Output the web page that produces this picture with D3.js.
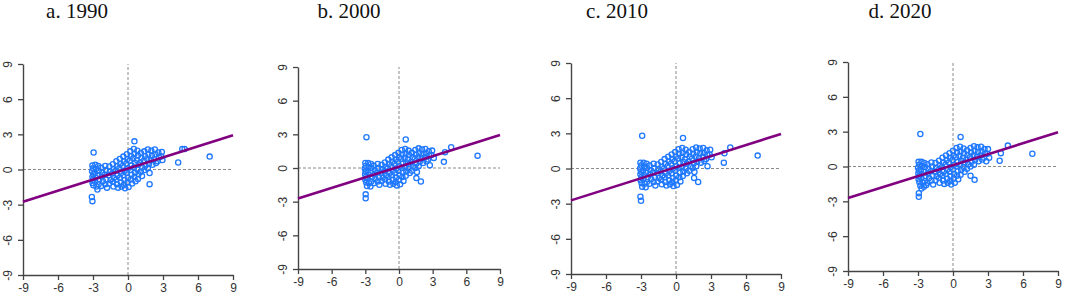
<!DOCTYPE html>
<html>
<head>
<meta charset="utf-8">
<style>
  body { margin: 0; background: #fff; }
  .tick text { font-family: "Liberation Sans", Arial, sans-serif; font-size: 12px; fill: #333; }
</style>
</head>
<body>
<script src="https://cdn.jsdelivr.net/npm/d3@7"></script>
<script>
var width = 1065, height = 296;

// panel titles and axis ticks
var titles = ["a. 1990", "b. 2000", "c. 2010", "d. 2020"];
var ticks = [-9, -6, -3, 0, 3, 6, 9];

// fitted line: value at x = -9 and at x = 9
var fitLines = [[-2.75, 2.92], [-2.72, 2.95], [-2.72, 2.95], [-2.72, 2.95]];

// standardized value (x) vs spatial lag (y)
var points1990 = [
  [-2.95,1.45],[0.55,2.4],[-3.1,-2.35],[-3.05,-2.7],[4.3,0.6],[7.0,1.1],[1.85,-1.25],[4.65,1.75],[4.85,1.75],
  [-3.05,0.35],[-3.0,0.1],[-3.08,-0.15],[-2.98,-0.4],[-3.05,-0.65],[-3.0,-0.9],[-3.04,-1.15],[-2.97,-1.35],
  [-2.8,0.4],[-2.75,0.05],[-2.85,-0.3],[-2.78,-0.7],[-2.82,-1.05],[-2.7,-1.45],[-2.62,-1.7],
  [-2.55,0.3],[-2.5,-0.1],[-2.6,-0.5],[-2.45,-0.85],[-2.52,-1.25],
  [-2.3,0.15],[-2.2,-0.25],[-2.25,-0.6],[-2.15,-1.0],[-2.3,-1.4],
  [-1.95,0.3],[-1.9,-0.05],[-2.0,-0.45],[-1.85,-0.85],[-1.95,-1.25],[-1.8,-1.55],
  [-1.6,0.25],[-1.55,-0.15],[-1.65,-0.5],[-1.5,-0.9],[-1.6,-1.2],
  [-1.3,0.45],[-1.25,0.05],[-1.35,-0.35],[-1.2,-0.7],[-1.3,-1.05],[-1.25,-1.45],
  [-1.0,0.7],[-0.95,0.3],[-1.05,-0.1],[-0.9,-0.5],[-1.0,-0.85],[-0.95,-1.25],[-0.85,-1.55],
  [-0.7,0.9],[-0.65,0.5],[-0.75,0.1],[-0.6,-0.3],[-0.7,-0.7],[-0.6,-1.1],[-0.55,-1.45],
  [-0.4,1.1],[-0.35,0.7],[-0.45,0.3],[-0.3,-0.1],[-0.4,-0.5],[-0.3,-0.9],[-0.35,-1.3],[-0.25,-1.6],
  [-0.1,1.3],[-0.05,0.9],[-0.15,0.5],[0.0,0.1],[-0.1,-0.3],[0.0,-0.7],[-0.05,-1.1],[0.05,-1.5],
  [0.2,1.55],[0.25,1.15],[0.15,0.75],[0.3,0.35],[0.2,-0.05],[0.3,-0.45],[0.25,-0.85],[0.35,-1.2],
  [0.5,1.75],[0.55,1.35],[0.45,0.95],[0.6,0.55],[0.5,0.15],[0.6,-0.25],[0.55,-0.65],[0.65,-1.0],
  [0.8,1.6],[0.85,1.2],[0.75,0.8],[0.9,0.4],[0.8,0.0],[0.9,-0.4],[0.85,-0.8],
  [1.1,1.4],[1.15,1.0],[1.05,0.6],[1.2,0.2],[1.1,-0.2],[1.2,-0.55],
  [1.4,1.55],[1.45,1.15],[1.35,0.75],[1.5,0.35],[1.4,-0.05],
  [1.7,1.7],[1.75,1.3],[1.65,0.9],[1.8,0.5],[1.7,0.1],[1.85,-0.3],
  [2.0,1.6],[2.05,1.2],[1.95,0.8],[2.1,0.4],
  [2.3,1.7],[2.35,1.3],[2.25,0.9],[2.4,0.55],
  [2.6,1.45],[2.65,1.05],[2.55,0.7],
  [2.9,1.5],[2.85,1.1],[2.95,0.8]
];

var points2000 = [
  [-2.9,2.75],[0.6,2.55],[-2.97,-2.35],[-2.97,-2.7],[7.0,1.1],[4.0,0.55],[4.1,1.4],[4.65,1.85],[2.75,0.25],[1.55,-0.9],[1.95,-1.2],
  [-3.0,0.45],[-2.95,0.2],[-3.05,-0.05],[-2.98,-0.3],[-3.02,-0.55],[-2.95,-0.8],[-3.0,-1.05],[-2.92,-1.3],[-2.85,-1.6],
  [-2.75,0.45],[-2.7,0.1],[-2.8,-0.25],[-2.72,-0.6],[-2.78,-0.95],[-2.65,-1.35],[-2.55,-1.65],
  [-2.5,0.35],[-2.45,0.0],[-2.55,-0.4],[-2.4,-0.8],[-2.48,-1.2],
  [-2.25,0.2],[-2.15,-0.2],[-2.2,-0.55],[-2.1,-0.95],[-2.25,-1.35],
  [-1.9,0.35],[-1.85,0.0],[-1.95,-0.4],[-1.8,-0.8],[-1.9,-1.2],[-1.75,-1.5],
  [-1.55,0.3],[-1.5,-0.1],[-1.6,-0.45],[-1.45,-0.85],[-1.55,-1.15],
  [-1.25,0.5],[-1.2,0.1],[-1.3,-0.3],[-1.15,-0.65],[-1.25,-1.0],[-1.2,-1.4],
  [-0.95,0.75],[-0.9,0.35],[-1.0,-0.05],[-0.85,-0.45],[-0.95,-0.8],[-0.9,-1.2],[-0.8,-1.5],
  [-0.65,0.95],[-0.6,0.55],[-0.7,0.15],[-0.55,-0.25],[-0.65,-0.65],[-0.55,-1.05],[-0.5,-1.4],
  [-0.35,1.15],[-0.3,0.75],[-0.4,0.35],[-0.25,-0.05],[-0.35,-0.45],[-0.25,-0.85],[-0.3,-1.25],[-0.2,-1.55],
  [-0.05,1.35],[0.0,0.95],[-0.1,0.55],[0.05,0.15],[-0.05,-0.25],[0.05,-0.65],[0.0,-1.05],[0.1,-1.45],
  [0.25,1.6],[0.3,1.2],[0.2,0.8],[0.35,0.4],[0.25,0.0],[0.35,-0.4],[0.3,-0.8],[0.4,-1.15],
  [0.55,1.7],[0.6,1.3],[0.5,0.9],[0.65,0.5],[0.55,0.1],[0.65,-0.3],[0.6,-0.7],
  [0.85,1.55],[0.9,1.15],[0.8,0.75],[0.95,0.35],[0.85,-0.05],[0.95,-0.45],
  [1.15,1.35],[1.2,0.95],[1.1,0.55],[1.25,0.15],[1.15,-0.25],
  [1.45,1.6],[1.5,1.2],[1.4,0.8],[1.55,0.4],[1.45,0.0],[1.6,-0.35],
  [1.75,1.75],[1.8,1.35],[1.7,0.95],[1.85,0.55],[1.75,0.15],
  [2.05,1.65],[2.1,1.25],[2.0,0.85],[2.15,0.45],
  [2.35,1.7],[2.4,1.3],[2.3,0.95],[2.45,0.6],
  [2.65,1.5],[2.7,1.1],[2.6,0.75],
  [2.95,1.55],[2.9,1.15],[3.1,0.9]
];

var points2010 = [
  [-2.9,2.8],[0.6,2.6],[-3.05,-2.4],[-3.0,-2.75],[7.0,1.1],[4.1,0.5],[4.15,1.3],[4.65,1.8],[2.7,0.2],[1.55,-0.8],[1.9,-1.15],
  [-3.05,0.5],[-2.98,0.25],[-3.08,0.0],[-3.0,-0.25],[-3.05,-0.5],[-2.97,-0.75],[-3.03,-1.0],[-2.95,-1.25],[-2.9,-1.55],
  [-2.78,0.5],[-2.72,0.15],[-2.82,-0.2],[-2.75,-0.55],[-2.8,-0.9],[-2.68,-1.3],[-2.6,-1.6],
  [-2.52,0.4],[-2.47,0.05],[-2.57,-0.35],[-2.42,-0.75],[-2.5,-1.15],
  [-2.27,0.25],[-2.17,-0.15],[-2.22,-0.5],[-2.12,-0.9],[-2.27,-1.3],
  [-1.92,0.4],[-1.87,0.05],[-1.97,-0.35],[-1.82,-0.75],[-1.92,-1.15],[-1.77,-1.45],
  [-1.57,0.35],[-1.52,-0.05],[-1.62,-0.4],[-1.47,-0.8],[-1.57,-1.1],
  [-1.27,0.55],[-1.22,0.15],[-1.32,-0.25],[-1.17,-0.6],[-1.27,-0.95],[-1.22,-1.35],
  [-0.97,0.8],[-0.92,0.4],[-1.02,0.0],[-0.87,-0.4],[-0.97,-0.75],[-0.92,-1.15],[-0.82,-1.45],
  [-0.67,1.0],[-0.62,0.6],[-0.72,0.2],[-0.57,-0.2],[-0.67,-0.6],[-0.57,-1.0],[-0.52,-1.35],
  [-0.37,1.2],[-0.32,0.8],[-0.42,0.4],[-0.27,0.0],[-0.37,-0.4],[-0.27,-0.8],[-0.32,-1.2],[-0.22,-1.5],
  [-0.07,1.4],[-0.02,1.0],[-0.12,0.6],[0.03,0.2],[-0.07,-0.2],[0.03,-0.6],[-0.02,-1.0],[0.08,-1.4],
  [0.23,1.65],[0.28,1.25],[0.18,0.85],[0.33,0.45],[0.23,0.05],[0.33,-0.35],[0.28,-0.75],[0.38,-1.1],
  [0.53,1.75],[0.58,1.35],[0.48,0.95],[0.63,0.55],[0.53,0.15],[0.63,-0.25],[0.58,-0.65],
  [0.83,1.6],[0.88,1.2],[0.78,0.8],[0.93,0.4],[0.83,0.0],[0.93,-0.4],
  [1.13,1.4],[1.18,1.0],[1.08,0.6],[1.23,0.2],[1.13,-0.2],
  [1.43,1.65],[1.48,1.25],[1.38,0.85],[1.53,0.45],[1.43,0.05],[1.58,-0.3],
  [1.73,1.8],[1.78,1.4],[1.68,1.0],[1.83,0.6],[1.73,0.2],
  [2.03,1.7],[2.08,1.3],[1.98,0.9],[2.13,0.5],
  [2.33,1.75],[2.38,1.35],[2.28,1.0],[2.43,0.65],
  [2.63,1.55],[2.68,1.15],[2.58,0.8],
  [2.93,1.6],[2.88,1.2],[3.05,0.95]
];

var points2020 = [
  [-2.8,2.8],[0.65,2.55],[-2.93,-2.3],[-2.93,-2.6],[6.8,1.1],[4.0,0.5],[4.1,1.15],[4.7,1.8],[2.85,0.45],[1.5,-0.8],[1.85,-1.15],[-2.7,-1.9],
  [-2.95,0.4],[-2.9,0.15],[-3.0,-0.1],[-2.92,-0.35],[-2.97,-0.6],[-2.9,-0.85],[-2.95,-1.1],[-2.88,-1.35],[-2.8,-1.65],
  [-2.7,0.4],[-2.65,0.05],[-2.75,-0.3],[-2.68,-0.65],[-2.72,-1.0],[-2.6,-1.4],[-2.5,-1.75],
  [-2.45,0.3],[-2.4,-0.05],[-2.5,-0.45],[-2.35,-0.85],[-2.42,-1.25],[-2.3,-1.6],
  [-2.2,0.2],[-2.1,-0.2],[-2.15,-0.6],[-2.05,-1.0],[-2.2,-1.4],
  [-1.85,0.35],[-1.8,0.0],[-1.9,-0.4],[-1.75,-0.8],[-1.85,-1.2],[-1.7,-1.55],
  [-1.5,0.3],[-1.45,-0.1],[-1.55,-0.45],[-1.4,-0.85],[-1.5,-1.2],
  [-1.2,0.5],[-1.15,0.1],[-1.25,-0.3],[-1.1,-0.65],[-1.2,-1.0],[-1.15,-1.4],
  [-0.9,0.75],[-0.85,0.35],[-0.95,-0.05],[-0.8,-0.45],[-0.9,-0.8],[-0.85,-1.2],[-0.75,-1.5],
  [-0.6,0.95],[-0.55,0.55],[-0.65,0.15],[-0.5,-0.25],[-0.6,-0.65],[-0.5,-1.05],[-0.45,-1.4],
  [-0.3,1.15],[-0.25,0.75],[-0.35,0.35],[-0.2,-0.05],[-0.3,-0.45],[-0.2,-0.85],[-0.25,-1.25],[-0.15,-1.55],
  [0.0,1.35],[0.05,0.95],[-0.05,0.55],[0.1,0.15],[0.0,-0.25],[0.1,-0.65],[0.05,-1.05],[0.15,-1.4],
  [0.3,1.6],[0.35,1.2],[0.25,0.8],[0.4,0.4],[0.3,0.0],[0.4,-0.4],[0.35,-0.8],[0.45,-1.1],
  [0.6,1.7],[0.65,1.3],[0.55,0.9],[0.7,0.5],[0.6,0.1],[0.7,-0.3],[0.65,-0.7],
  [0.9,1.55],[0.95,1.15],[0.85,0.75],[1.0,0.35],[0.9,-0.05],[1.0,-0.45],
  [1.2,1.4],[1.25,1.0],[1.15,0.6],[1.3,0.2],[1.2,-0.2],
  [1.5,1.6],[1.55,1.2],[1.45,0.8],[1.6,0.4],[1.5,0.0],
  [1.8,1.75],[1.85,1.35],[1.75,0.95],[1.9,0.55],[1.8,0.15],
  [2.1,1.65],[2.15,1.25],[2.05,0.85],[2.2,0.45],
  [2.4,1.7],[2.45,1.3],[2.35,0.95],[2.5,0.6],
  [2.7,1.5],[2.75,1.1],[2.65,0.75],
  [3.0,1.5],[2.95,1.1],[3.1,0.75]
];

var allPoints = [points1990, points2000, points2010, points2020];

// plot frames in pixels (left, right, top, bottom) and title centres
var frames = [
  { x0: 23,  x1: 233,  y0: 64, y1: 275, tx: 77 },
  { x0: 298, x1: 500,  y0: 67, y1: 269, tx: 349 },
  { x0: 571, x1: 781,  y0: 63, y1: 274, tx: 617 },
  { x0: 848, x1: 1058, y0: 62, y1: 271, tx: 900 }
];

var svg = d3.select("body").append("svg")
    .attr("width", width)
    .attr("height", height);

// plain hyphen minus, as in the original
var fmt = function (d) { return String(d); };

frames.forEach(function (f, i) {
    var x = d3.scaleLinear().domain([-9, 9]).range([f.x0, f.x1]);
    var y = d3.scaleLinear().domain([-9, 9]).range([f.y1, f.y0]);
    var g = svg.append("g");

    // title
    g.append("text")
        .attr("x", f.tx)
        .attr("y", 18)
        .attr("text-anchor", "middle")
        .style("font-family", "'Liberation Serif', 'Times New Roman', serif")
        .style("font-size", "21px")
        .style("fill", "#111")
        .text(titles[i]);

    // dashed zero lines
    g.append("line")
        .attr("x1", x(-9)).attr("x2", x(9))
        .attr("y1", y(0)).attr("y2", y(0))
        .attr("stroke", "#8a8a8a").attr("stroke-width", 1)
        .attr("stroke-dasharray", "3,2");
    g.append("line")
        .attr("x1", x(0)).attr("x2", x(0))
        .attr("y1", y(-9)).attr("y2", y(9))
        .attr("stroke", "#8a8a8a").attr("stroke-width", 1)
        .attr("stroke-dasharray", "3,2");

    // axes
    var xAxis = g.append("g")
        .attr("transform", "translate(0," + f.y1 + ")")
        .call(d3.axisBottom(x).tickValues(ticks).tickFormat(fmt).tickSize(5).tickSizeOuter(0).tickPadding(3));
    var yAxis = g.append("g")
        .attr("transform", "translate(" + f.x0 + ",0)")
        .call(d3.axisLeft(y).tickValues(ticks).tickFormat(fmt).tickSize(5).tickSizeOuter(0));

    [xAxis, yAxis].forEach(function (a) {
        a.select(".domain").attr("stroke", "#444").attr("stroke-width", 1.4);
        a.selectAll(".tick line").attr("stroke", "#444").attr("stroke-width", 1.3);
    });

    yAxis.selectAll(".tick text")
        .attr("transform", "rotate(-90)")
        .attr("x", 0)
        .attr("y", -15)
        .attr("dy", "0.35em")
        .attr("text-anchor", "middle");

    // points
    g.append("g").selectAll("circle")
        .data(allPoints[i])
        .join("circle")
        .attr("cx", function (d) { return x(d[0]); })
        .attr("cy", function (d) { return y(d[1]); })
        .attr("r", 2.6)
        .attr("fill", "none")
        .attr("stroke", "#1f78ff")
        .attr("stroke-width", 1.3);

    // fitted line
    g.append("line")
        .attr("x1", x(-9)).attr("y1", y(fitLines[i][0]))
        .attr("x2", x(9)).attr("y2", y(fitLines[i][1]))
        .attr("stroke", "#800080")
        .attr("stroke-width", 2.6);
});
</script>
</body>
</html>
